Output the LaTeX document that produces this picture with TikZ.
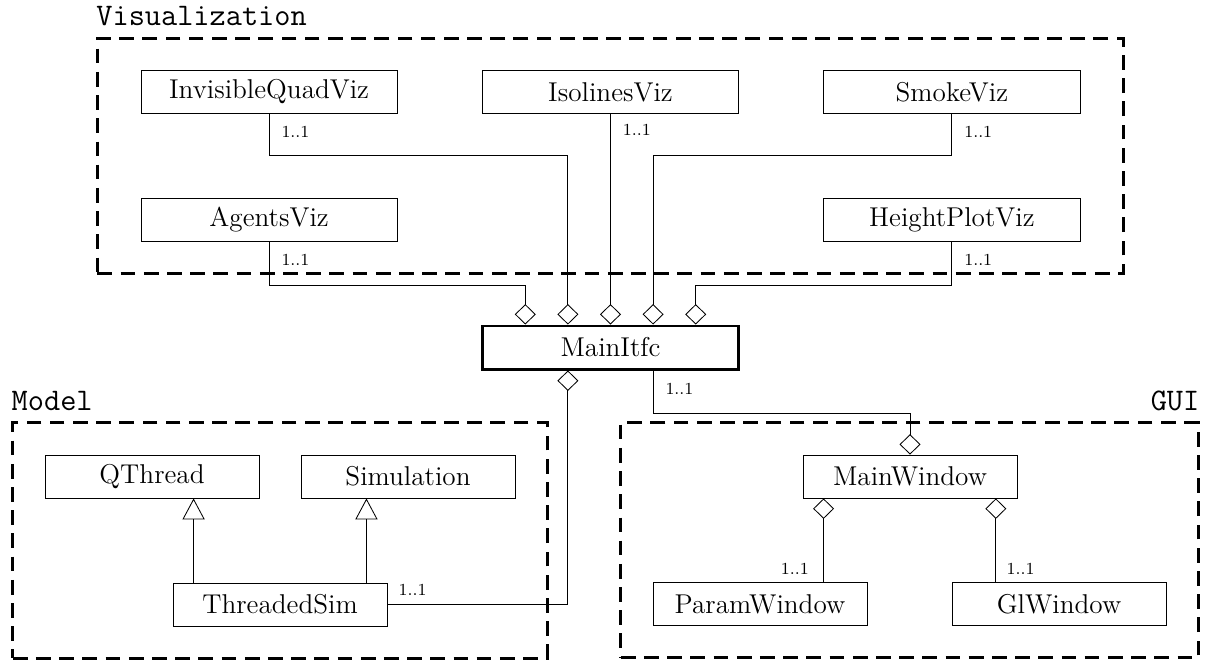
\documentclass[tikz,border=0pt]{standalone}
\usepackage{tikz}
\usetikzlibrary{positioning, fit, arrows.meta}

\tikzset{
    cls/.style={draw, rectangle, font=\fontsize{12.9}{15}\selectfont, inner sep=0pt, minimum width=3.567cm, minimum height=0.717cm},
    viz/.style={cls, minimum width=4.267cm},
    mainbox/.style={viz, line width=1.4pt},
    pkg/.style={draw, rectangle, line width=1.4pt, dash pattern=on 7pt off 4pt, inner sep=0.53cm},
    pkglabel/.style={font=\fontsize{14.9}{18}\selectfont\ttfamily, inner sep=0pt},
    mult/.style={font=\footnotesize, inner sep=0pt},
    agg/.style={-{Diamond[open, length=0.34cm, width=0.35cm]}},
    inh/.style={-{Triangle[open, length=0.35cm, width=0.37cm]}}
}

\begin{document}
\begin{tikzpicture}[on grid]
        \useasboundingbox (-10.175,5.792) rectangle (9.925,-5.208);

        \node [mainbox] (mainitfc) at (0,0) {MainItfc};
        \node [viz, above=4.26cm of mainitfc] (isolines) {IsolinesViz};
        \node [viz, left=5.69cm of isolines] (invquad) {InvisibleQuadViz};
        \node [viz, right=5.69cm of isolines] (smoke) {SmokeViz};
        \node [viz, below=2.135cm of invquad] (agents) {AgentsViz};
        \node [viz, below=2.135cm of smoke] (heightplot) {HeightPlotViz};

        \node [cls, below left=4.283cm and 5.508cm of mainitfc] (threadedsim) {ThreadedSim};
        \node [cls, above left=2.133cm and 2.133cm of threadedsim] (qthread) {QThread};
        \node [cls, above right=2.133cm and 2.133cm of threadedsim] (simulation) {Simulation};

        \node [cls, below right=2.15cm and 4.992cm of mainitfc] (mainwindow) {MainWindow};
        \node [cls, below left=2.125cm and 2.5cm of mainwindow] (paramwindow) {ParamWindow};
        \node [cls, below right=2.125cm and 2.483cm of mainwindow] (glwindow) {GlWindow};

        \node [pkg, fit=(invquad)(smoke)(agents)(heightplot), inner xsep=0.72cm, inner ysep=0.52cm] (vizpkg) {};
        \node [pkg, fit=(qthread)(simulation)(threadedsim)] (modelpkg) {};
        \node [pkg, fit=(mainwindow)(paramwindow)(glwindow)] (guipkg) {};
        \node [pkglabel, anchor=base west] (vizlabel) at ([yshift=0.2cm]vizpkg.north west) {Visualization};
        \node [pkglabel, anchor=base west] (modellabel) at ([yshift=0.18cm]modelpkg.north west) {Model};
        \node [pkglabel, anchor=base east] (guilabel) at ([yshift=0.18cm]guipkg.north east) {GUI};

        \draw [agg] (invquad.south) -- ++(0,-0.7) -| ([xshift=-0.71cm]mainitfc.north);
        \draw [agg] (isolines) -- (mainitfc);
        \draw [agg] (smoke.south) -- ++(0,-0.7) -| ([xshift=0.71cm]mainitfc.north);
        \draw [agg] (agents.south) -- ++(0,-0.72) -| ([xshift=-1.42cm]mainitfc.north);
        \draw [agg] (heightplot.south) -- ++(0,-0.72) -| ([xshift=1.42cm]mainitfc.north);
        \draw [agg] (threadedsim.east) -| ([xshift=-0.71cm]mainitfc.south);
        \draw [agg] ([xshift=0.71cm]mainitfc.south) -- ++(0,-0.72) -| (mainwindow.north);
        \draw [agg] ([xshift=0.35cm]mainwindow.south west |- paramwindow.north) -- ([xshift=0.35cm]mainwindow.south west);
        \draw [agg] ([xshift=-0.36cm]mainwindow.south east |- glwindow.north) -- ([xshift=-0.36cm]mainwindow.south east);

        \draw [inh] ([xshift=0.35cm]threadedsim.north west) -- ([xshift=0.35cm]threadedsim.north west |- qthread.south);
        \draw [inh] ([xshift=-0.35cm]threadedsim.north east) -- ([xshift=-0.35cm]threadedsim.north east |- simulation.south);

        \node [mult, anchor=west] (m-invquad) at ([shift={(0.2,-0.3)}]invquad.south) {1..1};
        \node [mult, anchor=west] (m-isolines) at ([shift={(0.2,-0.27)}]isolines.south) {1..1};
        \node [mult, anchor=west] (m-smoke) at ([shift={(0.2,-0.3)}]smoke.south) {1..1};
        \node [mult, anchor=west] (m-agents) at ([shift={(0.2,-0.3)}]agents.south) {1..1};
        \node [mult, anchor=west] (m-heightplot) at ([shift={(0.2,-0.3)}]heightplot.south) {1..1};
        \node [mult, anchor=west] (m-threadedsim) at ([shift={(0.18,0.24)}]threadedsim.east) {1..1};
        \node [mult, anchor=west] (m-mainitfc) at ([shift={(0.91,-0.3)}]mainitfc.south) {1..1};
        \node [mult, anchor=east] (m-paramwindow) at ([shift={(0.82,0.22)}]paramwindow.north) {1..1};
        \node [mult, anchor=west] (m-glwindow) at ([shift={(-0.88,0.22)}]glwindow.north) {1..1};
    \end{tikzpicture}
\end{document}
